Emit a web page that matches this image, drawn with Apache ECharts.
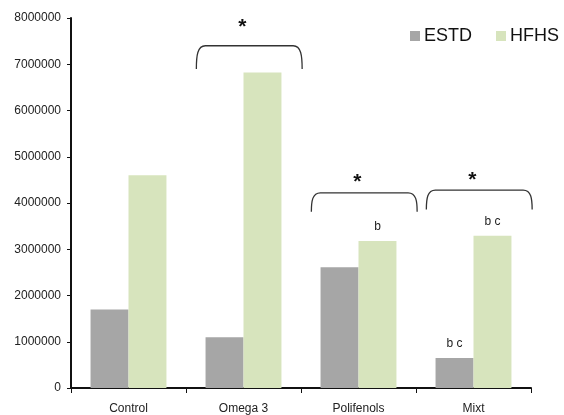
<!DOCTYPE html>
<html>
<head>
<meta charset="utf-8">
<script src="https://cdn.jsdelivr.net/npm/echarts@6/dist/echarts.min.js"></script>
<style>
  html, body { margin: 0; padding: 0; background: #fff; }
  #chart { width: 564px; height: 415px; }
</style>
</head>
<body>
<div id="chart"></div>
<script>
// Groups and measured values per diet
const categories = ['Control', 'Omega 3', 'Polifenols', 'Mixt'];
const estdValues = [1700000, 1100000, 2610000, 650000];
const hfhsValues = [4600000, 6820000, 3180000, 3290000];

// Letter annotations shown above each bar
const estdLetters = ['', '', '', 'b c'];
const hfhsLetters = ['', '', 'b', 'b c'];

// Y axis range and step
const yMin = 0;
const yMax = 8000000;
const yStep = 1000000;

// Significance brackets: group, level of the bar, level of the ends, asterisk level
const bracketGroups = ['Omega 3', 'Polifenols', 'Mixt'];
const bracketTops = [7400000, 4220000, 4280000];
const bracketEnds = [6900000, 3810000, 3860000];
const bracketStars = [7800000, 4450000, 4500000];

const FONT = '"Liberation Sans", Arial, sans-serif';
const chart = echarts.init(document.getElementById('chart'), null, { renderer: 'canvas' });

function letterLabel(letters) {
  return {
    show: true,
    position: 'top',
    distance: 8,
    fontFamily: FONT,
    fontSize: 12,
    color: '#222',
    formatter: p => letters[p.dataIndex]
  };
}

const bracketData = bracketGroups.map((g, i) => [categories.indexOf(g), bracketTops[i], bracketEnds[i], bracketStars[i]]);

function renderBracket(params, api) {
  const ci = api.value(0);
  const top = api.coord([ci, api.value(1)]);
  const end = api.coord([ci, api.value(2)]);
  const star = api.coord([ci, api.value(3)]);
  const band = api.size([1, 0])[0];
  const x0 = top[0] - band / 2 + band * 0.09;
  const x1 = top[0] + band / 2 + band * 0.01;
  const y0 = top[1];
  const y1 = end[1];
  const r = 9;
  const h = y1 - y0;
  const d = [
    'M', x0, y1,
    'C', x0, y1 - h * 0.55, x0 + 1, y0, x0 + r, y0,
    'L', x1 - r, y0,
    'C', x1 - 1, y0, x1, y1 - h * 0.55, x1, y1
  ].join(' ');
  return {
    type: 'group',
    children: [
      {
        type: 'path',
        shape: { pathData: d },
        style: { fill: 'none', stroke: '#333', lineWidth: 1.3 }
      },
      {
        type: 'text',
        style: {
          text: '*',
          x: (x0 + x1) / 2 - 7,
          y: star[1],
          align: 'center',
          verticalAlign: 'middle',
          font: 'bold 21px ' + FONT,
          fill: '#111'
        }
      }
    ]
  };
}

chart.setOption({
  animation: false,
  backgroundColor: '#fff',
  grid: { left: 71, right: 33, top: 18, bottom: 27, containLabel: false },
  legend: {
    data: ['ESTD', 'HFHS'],
    right: 0,
    top: 22,
    itemWidth: 10,
    itemHeight: 10,
    itemGap: 24,
    icon: 'rect',
    textStyle: { fontFamily: FONT, fontSize: 18, color: '#111', padding: [0, 0, 0, -1] }
  },
  xAxis: {
    type: 'category',
    data: categories,
    axisLine: { lineStyle: { color: '#111', width: 2 } },
    axisTick: { show: true, length: 5, interval: 0, lineStyle: { color: '#111', width: 1 } },
    axisLabel: { fontFamily: FONT, fontSize: 12, color: '#222', margin: 15, interval: 0 }
  },
  yAxis: {
    type: 'value',
    min: yMin,
    max: yMax,
    interval: yStep,
    axisLine: { show: true, lineStyle: { color: '#111', width: 2 } },
    axisTick: { show: true, length: 4, lineStyle: { color: '#111', width: 1 } },
    splitLine: { show: false },
    axisLabel: { fontFamily: FONT, fontSize: 12, color: '#222', margin: 10, formatter: v => String(v) }
  },
  series: [
    {
      name: 'ESTD',
      type: 'bar',
      data: estdValues,
      barGap: '0%',
      barCategoryGap: '34%',
      itemStyle: { color: '#a6a6a6' },
      label: letterLabel(estdLetters)
    },
    {
      name: 'HFHS',
      type: 'bar',
      data: hfhsValues,
      barGap: '0%',
      barCategoryGap: '34%',
      itemStyle: { color: '#d7e4bd' },
      label: letterLabel(hfhsLetters)
    },
    {
      name: 'brackets',
      type: 'custom',
      data: bracketData,
      encode: { x: 0, y: [1, 2, 3] },
      renderItem: renderBracket,
      silent: true,
      z: 5
    }
  ]
});
</script>
</body>
</html>
